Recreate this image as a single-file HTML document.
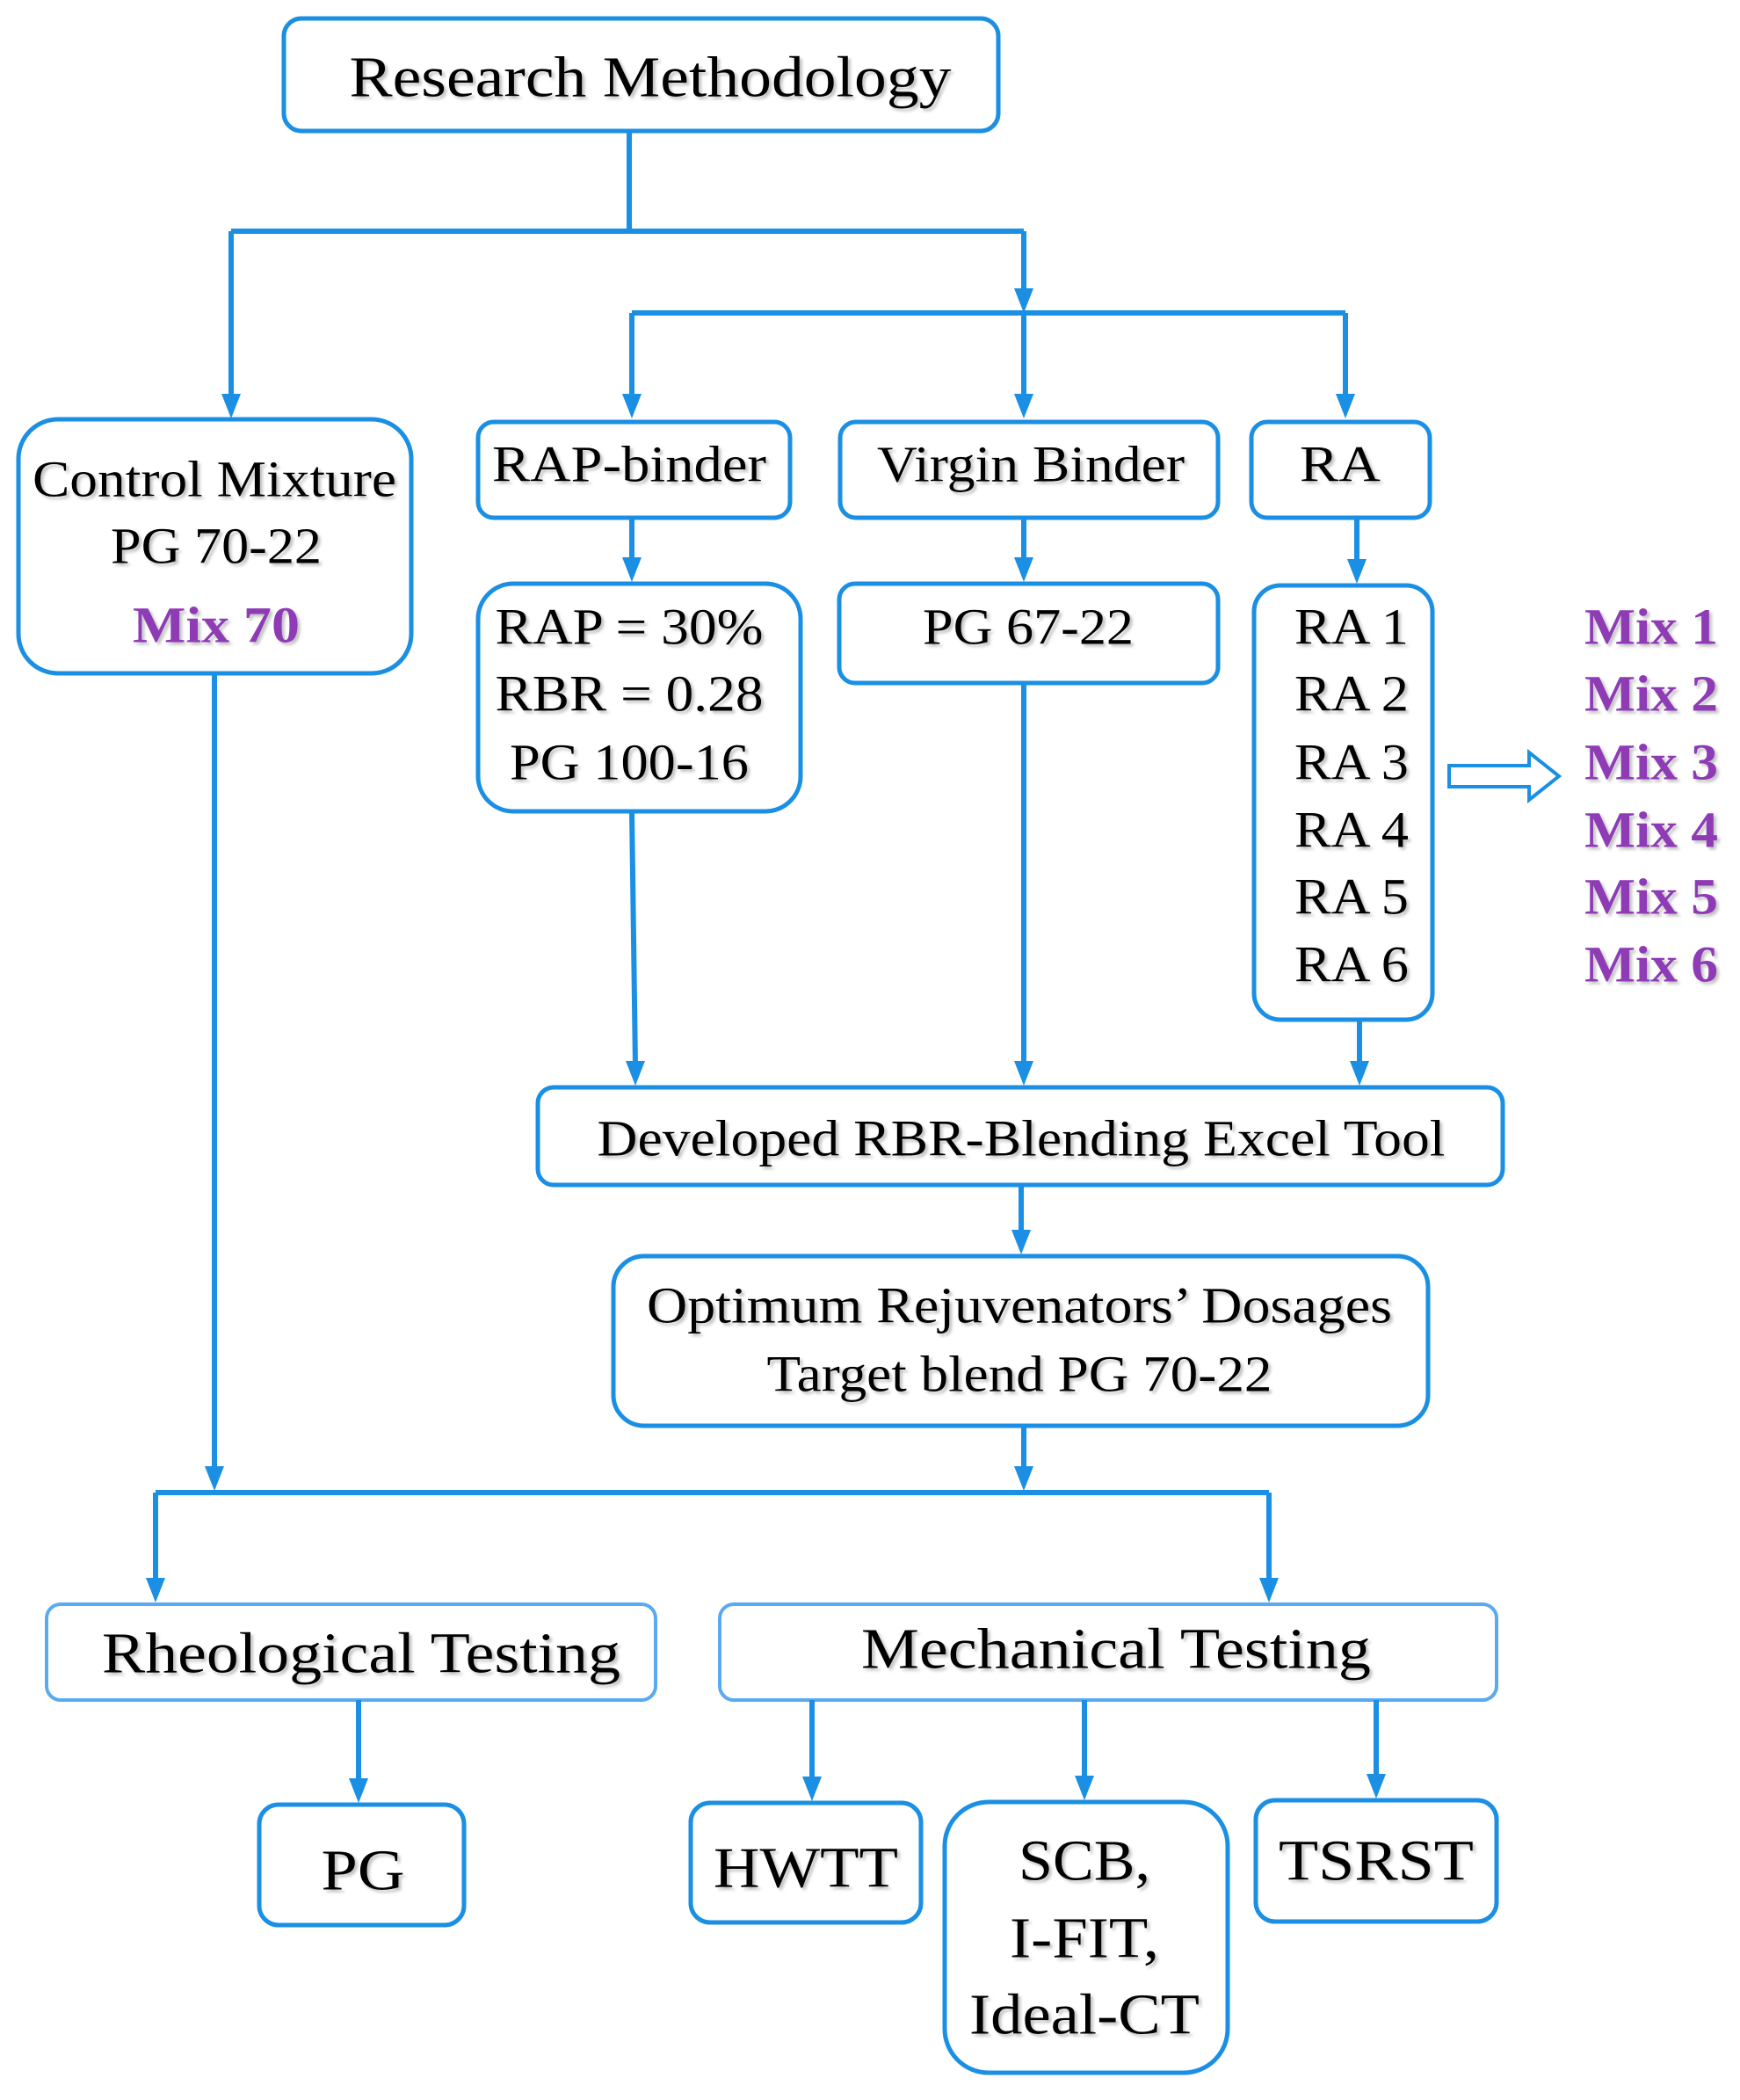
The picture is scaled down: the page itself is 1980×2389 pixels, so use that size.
<!DOCTYPE html>
<html><head><meta charset="utf-8"><style>html,body{margin:0;padding:0;background:#fff}svg{display:block}</style></head>
<body>
<svg width="1980" height="2389" viewBox="0 0 1980 2389" xmlns="http://www.w3.org/2000/svg">
<defs>
<filter id="s"><feDropShadow dx="3" dy="3" stdDeviation="1.5" flood-color="#999" flood-opacity="0.6"/></filter>
</defs>
<g fill="none" stroke="#1a8fe3" stroke-width="5">
<rect x="323" y="21" width="813" height="128" rx="20"/>
<rect x="21" y="477" width="447" height="289" rx="45"/>
<rect x="544" y="480" width="355" height="109" rx="18"/>
<rect x="956" y="480" width="430" height="109" rx="18"/>
<rect x="1424" y="480" width="203" height="109" rx="18"/>
<rect x="544" y="664" width="367" height="259" rx="40"/>
<rect x="955" y="664" width="431" height="113" rx="18"/>
<rect x="1427" y="666" width="203" height="494" rx="30"/>
<rect x="612" y="1237" width="1098" height="111" rx="18"/>
<rect x="698" y="1429" width="927" height="193" rx="35"/>
<rect x="295" y="2053" width="233" height="137" rx="22"/>
<rect x="786" y="2051" width="262" height="136" rx="22"/>
<rect x="1075" y="2050" width="322" height="308" rx="50"/>
<rect x="1429" y="2048" width="274" height="138" rx="22"/>
</g>
<g fill="none" stroke="#5aaaf0" stroke-width="4">
<rect x="53" y="1825" width="693" height="109" rx="16"/>
<rect x="819" y="1825" width="884" height="109" rx="16"/>
</g>
<g fill="none" stroke="#1a8fe3" stroke-width="6">
<path d="M716,149 V263 M263,263 H1165 M719,356 H1531 M177,1698 H1444"/>
<path d="M263,263 V455 M1165,263 V335 M719,356 V455 M1165,356 V455 M1531,356 V455 M719,589 V640 M1165,589 V640 M1544,589 V642 M719,923 L723,1213 M1165,777 V1213 M1547,1160 V1213 M1162,1348 V1405 M1165,1622 V1675 M244,766 V1675 M177,1698 V1800 M1444,1698 V1800 M408,1934 V2030 M924,1934 V2028 M1234,1934 V2027 M1566,1934 V2025"/>
</g>
<g fill="#1a8fe3">
<polygon points="252,448 274,448 263,476"/>
<polygon points="1154,328 1176,328 1165,356"/>
<polygon points="708,448 730,448 719,476"/>
<polygon points="1154,448 1176,448 1165,476"/>
<polygon points="1520,448 1542,448 1531,476"/>
<polygon points="708,634 730,634 719,662"/>
<polygon points="1154,634 1176,634 1165,662"/>
<polygon points="1533,636 1555,636 1544,664"/>
<polygon points="712,1207 734,1207 723,1235"/>
<polygon points="1154,1207 1176,1207 1165,1235"/>
<polygon points="1536,1207 1558,1207 1547,1235"/>
<polygon points="1151,1399 1173,1399 1162,1427"/>
<polygon points="1154,1668 1176,1668 1165,1696"/>
<polygon points="233,1668 255,1668 244,1696"/>
<polygon points="166,1795 188,1795 177,1823"/>
<polygon points="1433,1795 1455,1795 1444,1823"/>
<polygon points="397,2023 419,2023 408,2051"/>
<polygon points="913,2021 935,2021 924,2049"/>
<polygon points="1223,2020 1245,2020 1234,2048"/>
<polygon points="1555,2018 1577,2018 1566,2046"/>
</g>
<path d="M1649,871 H1740 V856 L1774,883 L1740,910 V895 H1649 Z" fill="#fff" stroke="#1a8fe3" stroke-width="4"/>
<g font-family="Liberation Serif, serif" fill="#000" text-anchor="middle" dominant-baseline="central" filter="url(#s)">
<text x="740" y="88" font-size="66" textLength="685" lengthAdjust="spacingAndGlyphs">Research  Methodology</text>
<text x="244" y="545" font-size="58" textLength="414" lengthAdjust="spacingAndGlyphs">Control Mixture</text>
<text x="246" y="621" font-size="58" textLength="240" lengthAdjust="spacingAndGlyphs">PG 70-22</text>
<text x="246" y="711" font-size="58" fill="#8e3bb5" font-weight="bold" textLength="190" lengthAdjust="spacingAndGlyphs">Mix 70</text>
<text x="716" y="528" font-size="58" textLength="312" lengthAdjust="spacingAndGlyphs">RAP-binder</text>
<text x="1173" y="528" font-size="58" textLength="350" lengthAdjust="spacingAndGlyphs">Virgin Binder</text>
<text x="1525" y="528" font-size="58" textLength="92" lengthAdjust="spacingAndGlyphs">RA</text>
<text x="716" y="713" font-size="58" textLength="305" lengthAdjust="spacingAndGlyphs">RAP = 30%</text>
<text x="716" y="789" font-size="58" textLength="305" lengthAdjust="spacingAndGlyphs">RBR = 0.28</text>
<text x="716" y="867" font-size="58" textLength="272" lengthAdjust="spacingAndGlyphs">PG 100-16</text>
<text x="1170" y="713" font-size="58" textLength="240" lengthAdjust="spacingAndGlyphs">PG 67-22</text>
<text x="1538" y="713" font-size="58" textLength="130" lengthAdjust="spacingAndGlyphs">RA 1</text>
<text x="1538" y="789" font-size="58" textLength="130" lengthAdjust="spacingAndGlyphs">RA 2</text>
<text x="1538" y="867" font-size="58" textLength="130" lengthAdjust="spacingAndGlyphs">RA 3</text>
<text x="1538" y="944" font-size="58" textLength="130" lengthAdjust="spacingAndGlyphs">RA 4</text>
<text x="1538" y="1020" font-size="58" textLength="130" lengthAdjust="spacingAndGlyphs">RA 5</text>
<text x="1538" y="1097" font-size="58" textLength="130" lengthAdjust="spacingAndGlyphs">RA 6</text>
<g fill="#8e3bb5" font-weight="bold">
<text x="1879" y="713" font-size="58" textLength="152" lengthAdjust="spacingAndGlyphs">Mix 1</text>
<text x="1879" y="789" font-size="58" textLength="152" lengthAdjust="spacingAndGlyphs">Mix 2</text>
<text x="1879" y="867" font-size="58" textLength="152" lengthAdjust="spacingAndGlyphs">Mix 3</text>
<text x="1879" y="944" font-size="58" textLength="152" lengthAdjust="spacingAndGlyphs">Mix 4</text>
<text x="1879" y="1020" font-size="58" textLength="152" lengthAdjust="spacingAndGlyphs">Mix 5</text>
<text x="1879" y="1097" font-size="58" textLength="152" lengthAdjust="spacingAndGlyphs">Mix 6</text>
</g>
<text x="1162" y="1295" font-size="58" textLength="965" lengthAdjust="spacingAndGlyphs">Developed RBR-Blending Excel Tool</text>
<text x="1160" y="1485" font-size="58" textLength="848" lengthAdjust="spacingAndGlyphs">Optimum Rejuvenators’ Dosages</text>
<text x="1160" y="1563" font-size="58" textLength="575" lengthAdjust="spacingAndGlyphs">Target  blend PG 70-22</text>
<text x="411" y="1881" font-size="66" textLength="590" lengthAdjust="spacingAndGlyphs">Rheological  Testing</text>
<text x="1270" y="1876" font-size="66" textLength="580" lengthAdjust="spacingAndGlyphs">Mechanical  Testing</text>
<text x="413" y="2128" font-size="66" textLength="95" lengthAdjust="spacingAndGlyphs">PG</text>
<text x="917" y="2125" font-size="66" textLength="210" lengthAdjust="spacingAndGlyphs">HWTT</text>
<text x="1234" y="2117" font-size="66" textLength="150" lengthAdjust="spacingAndGlyphs">SCB,</text>
<text x="1234" y="2205" font-size="66" textLength="170" lengthAdjust="spacingAndGlyphs">I-FIT,</text>
<text x="1234" y="2292" font-size="66" textLength="262" lengthAdjust="spacingAndGlyphs">Ideal-CT</text>
<text x="1566" y="2117" font-size="66" textLength="222" lengthAdjust="spacingAndGlyphs">TSRST</text>
</g>
</svg>
</body></html>
